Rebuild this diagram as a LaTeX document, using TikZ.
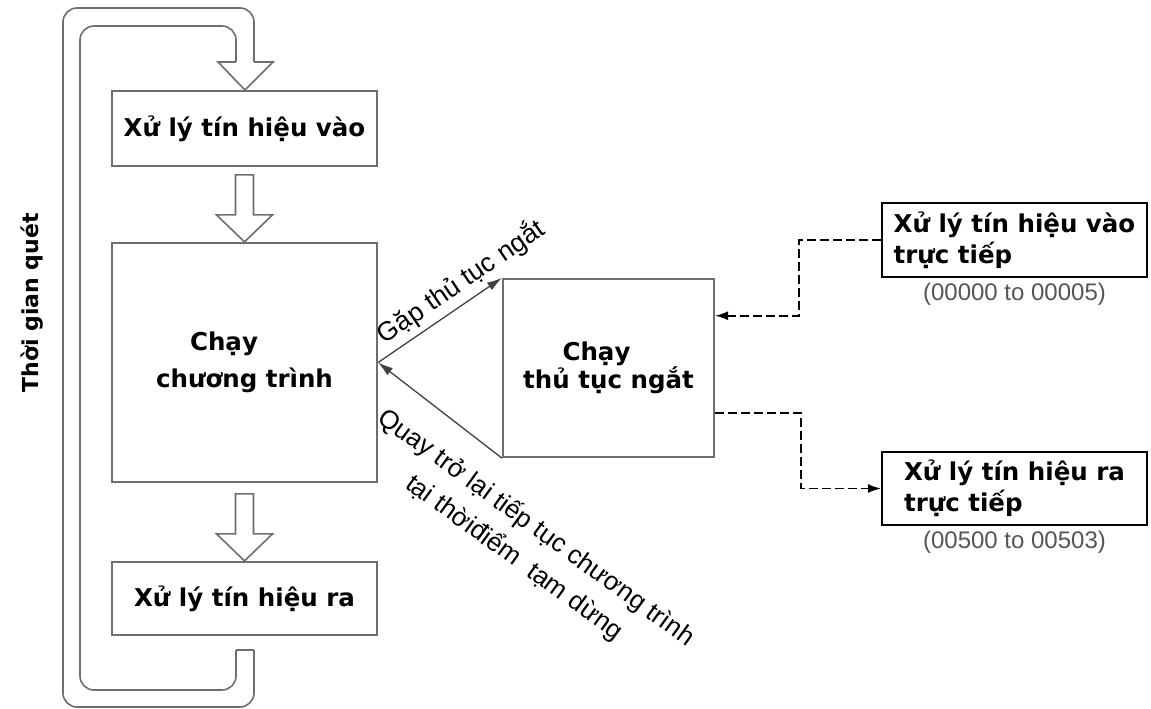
\documentclass[tikz,border=0pt]{standalone}
\usepackage{fontspec}
\setmainfont{Liberation Sans}
\newfontfamily\boxfont{DejaVu Sans}
\usetikzlibrary{positioning, calc, arrows.meta}

\definecolor{boxgray}{HTML}{6E6E6E}
\definecolor{addrgray}{HTML}{555555}

\tikzset{
  stepbox/.style={draw=boxgray, line width=2.2pt, fill=white, minimum width=265pt,
    align=center, font=\boxfont\bfseries\fontsize{24.5}{31}\selectfont},
  sidebox/.style={draw=black, line width=2pt, minimum width=265pt, minimum height=74pt,
    align=left, font=\boxfont\bfseries\fontsize{24.5}{31}\selectfont},
  addr/.style={text=addrgray, inner sep=1pt, font=\fontsize{24}{28}\selectfont},
  lbl/.style={font=\fontsize{26}{37}\selectfont},
  loopline/.style={draw=boxgray, line width=1.6pt},
  hollowline/.style={loopline, fill=white},
  solidarr/.style={draw=black!75, line width=1.3pt, -{Latex[length=15pt,width=9pt]}},
  dasharr/.style={draw=black, line width=1.6pt, dash pattern=on 9pt off 4pt,
    -{Latex[length=13pt,width=9pt]}},
  hollow/.pic={
    \draw[hollowline] (-9,-67) -- (-9,-27) -- (-28,-27) -- (0,0) -- (28,-27)
      -- (9,-27) -- (9,-67) -- cycle;
  }
}

\begin{document}
\begin{tikzpicture}[x=1pt, y=-1pt]
\useasboundingbox (0,0) rectangle (1151,709);

% vong quet
\draw[loopline, rounded corners=14pt] (236,62) -- (236,26) -- (80,26) -- (80,690) -- (236,690) -- (236,650);
\draw[loopline, rounded corners=14pt] (254,62) -- (254,8) -- (63,8) -- (63,707) -- (254,707) -- (254,650);
\draw[loopline] (236,650) -- (254,650);
\draw[loopline, line join=miter] (236,62) -- (218,62) -- (245,90) -- (273,62) -- (254,62);
\node[font=\boxfont\bfseries\fontsize{22}{26}\selectfont, rotate=90] (tg) at (32,303) {Thời gian quét};

% khoi chinh
\node[stepbox, minimum height=75pt] (vao) at (244.5,128.5) {Xử lý tín hiệu vào};
\node[stepbox, minimum height=239pt] (chay) at (244.5,362.5) {Chạy\hspace*{41pt}\\[6pt]chương trình};
\node[stepbox, minimum height=73pt] (ra) at (244.5,598.5) {Xử lý tín hiệu ra};
\pic at (chay.north) {hollow};
\pic at (ra.north) {hollow};

% ngat
\node[stepbox, minimum width=211pt, minimum height=178pt] (ngat) at (608.5,368) {Chạy\hspace*{24pt}\\[-3pt]thủ tục ngắt};
\draw[solidarr] (chay.east) -- node[lbl, font=\fontsize{26.5}{30}\selectfont, sloped, above=2pt, pos=0.76] (gap) {Gặp thủ tục ngắt} (ngat.north west);
\draw[solidarr] (ngat.south west) -- (chay.east);
\node[lbl, rotate=-36, align=center] (quay) at (525,543) {Quay trở lại tiếp tục chương trình\\tại thờiđiểm~ tạm dừng};

% vao ra truc tiep
\node[sidebox] (vaott) at (1014.5,240) {Xử lý tín hiệu vào\\trực tiếp};
\node[addr, below=4pt of vaott] (addrvao) {(00000 to 00005)};
\node[sidebox, minimum height=73pt] (ratt) at (1014.5,488.5) {Xử lý tín hiệu ra\\trực tiếp};
\node[addr, below=4pt of ratt] (addrra) {(00500 to 00503)};

\coordinate (inp) at ($(ngat.north east)!0.21!(ngat.south east)$);
\coordinate (outp) at ($(ngat.north east)!0.75!(ngat.south east)$);
\draw[dasharr] (vaott.west) -- ++(-82,0) |- (inp);
\draw[dasharr] (outp) -- ++(86,0) |- (ratt.west);
\end{tikzpicture}
\end{document}
